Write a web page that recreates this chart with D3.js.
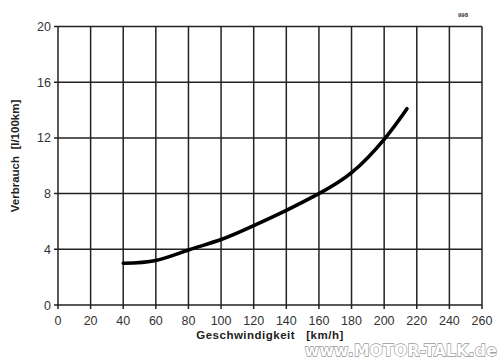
<!DOCTYPE html>
<html><head><meta charset="utf-8">
<script src="https://cdn.jsdelivr.net/npm/d3@7"></script>
<style>body{margin:0;background:#fff}svg{display:block}</style>
</head><body>
<script>
const speeds = [40, 60, 80, 100, 120, 140, 160, 180, 200, 214];
const consumption = [3.0, 3.2, 3.95, 4.7, 5.7, 6.8, 8.0, 9.5, 11.9, 14.1];
const xTicks = [0,20,40,60,80,100,120,140,160,180,200,220,240,260];
const yTicks = [0,4,8,12,16,20];

const W = 500, H = 360;
const svg = d3.select("body").append("svg").attr("width", W).attr("height", H);
const x = d3.scaleLinear().domain([0,260]).range([58,482]);
const y = d3.scaleLinear().domain([0,20]).range([305,26.5]);

// watermark (behind)
svg.append("text").attr("x", 497).attr("y", 356.3).attr("text-anchor","end")
  .attr("font-family","DejaVu Sans, sans-serif").attr("font-size",15.5)
  .attr("font-weight","bold").attr("fill","#fff").attr("stroke","#999").attr("stroke-width",1.3)
  .attr("paint-order","stroke").attr("letter-spacing",0.3)
  .text("www.MOTOR-TALK.de");

const g = svg.append("g");
// grid
g.selectAll("line.v").data(xTicks).join("line")
  .attr("x1", d=>x(d)).attr("x2", d=>x(d)).attr("y1", y(0)+4).attr("y2", y(20))
  .attr("stroke", "#222").attr("stroke-width", 1.5);
g.selectAll("line.h").data(yTicks).join("line")
  .attr("x1", x(0)-4).attr("x2", x(260)).attr("y1", d=>y(d)).attr("y2", d=>y(d))
  .attr("stroke", "#222").attr("stroke-width", 1.5);

// tick labels
g.selectAll("text.xt").data(xTicks).join("text")
  .attr("x", d=>x(d)).attr("y", 325).attr("text-anchor","middle")
  .attr("font-family","Liberation Sans, Arial, sans-serif").attr("font-size",12.5)
  .attr("fill","#333").text(d=>d);
g.selectAll("text.yt").data(yTicks).join("text")
  .attr("x", 51).attr("y", d=>y(d)+4.5).attr("text-anchor","end")
  .attr("font-family","Liberation Sans, Arial, sans-serif").attr("font-size",12.5)
  .attr("fill","#333").text(d=>d);

// axis titles
svg.append("text").attr("x", 270).attr("y", 339).attr("text-anchor","middle")
  .attr("font-family","Liberation Sans, Arial, sans-serif").attr("font-size",11.5)
  .attr("font-weight","bold").attr("fill","#222").attr("xml:space","preserve")
  .attr("letter-spacing",0.5)
  .text("Geschwindigkeit   [km/h]");
svg.append("text").attr("transform","translate(19,156) rotate(-90)").attr("text-anchor","middle")
  .attr("font-family","Liberation Sans, Arial, sans-serif").attr("font-size",11.5)
  .attr("font-weight","bold").attr("fill","#222").attr("xml:space","preserve")
  .text("Verbrauch  [l/100km]");

// curve
const data = speeds.map((s,i)=>[s, consumption[i]]);
svg.append("path").datum(data)
  .attr("d", d3.line().x(d=>x(d[0])).y(d=>y(d[1])).curve(d3.curveNatural))
  .attr("fill","none").attr("stroke","#000").attr("stroke-width",3.6).attr("stroke-linecap","round");

// small marker text
svg.append("text").attr("x", 463).attr("y", 17).attr("text-anchor","middle")
  .attr("font-family","Liberation Sans, Arial, sans-serif").attr("font-size",6)
  .attr("font-weight","bold").attr("fill","#333").text("998");
</script>
</body></html>
